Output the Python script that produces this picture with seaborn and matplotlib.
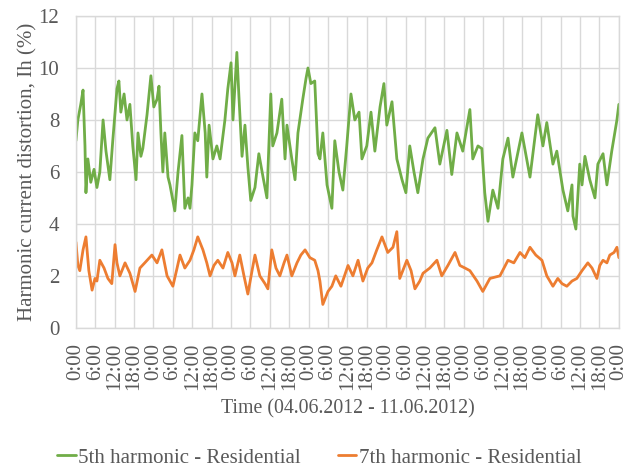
import numpy as np
import pandas as pd
import matplotlib
matplotlib.use("Agg")
import matplotlib.pyplot as plt
import seaborn as sns
from matplotlib.lines import Line2D

# ---- data (hours since 04.06.2012 0:00, value in %) ----
h5_hours = [0, 0.6, 1.5, 2.2, 2.8, 3.1, 3.7, 4.6, 5.6, 6.5, 7.4, 8.4, 9.3, 10.5, 11.4, 12.7, 13.3, 13.9,
            14.9, 15.8, 16.7, 17.6, 18.6, 19.2, 20.1, 20.7, 22.0, 23.2, 24.1, 25.1, 25.7, 26.3, 26.9, 27.5,
            28.5, 29.1, 30.6, 31.6, 32.8, 33.7, 34.7, 35.3, 35.9, 36.8, 37.7, 39.0, 40.0, 40.5, 41.2, 42.4,
            43.6, 44.6, 46.1, 47.0, 48.0, 48.6, 49.8, 50.4, 51.4, 52.3, 53.2, 54.1, 55.4, 56.6, 57.9, 59.1,
            60.3, 60.9, 62.2, 63.7, 64.7, 65.3, 66.8, 67.8, 68.7, 70.2, 71.2, 71.8, 72.7, 73.9, 74.9, 75.5,
            76.4, 77.7, 79.2, 80.1, 81.4, 82.6, 83.8, 85.1, 86.3, 87.6, 88.5, 90.0, 91.3, 92.5, 94.1, 95.3,
            96.2, 97.8, 99.3, 100.9, 102.1, 103.3, 104.6, 105.8, 107.4, 108.9, 111.1, 112.6, 114.8, 116.3,
            117.9, 119.7, 121.9, 122.8, 124.4, 125.6, 126.5, 127.5, 129.0, 130.6, 132.1, 133.7, 135.2, 138.0,
            140.5, 142.9, 144.5, 145.7, 147.6, 148.8, 150.7, 152.2, 153.5, 153.8, 154.7, 155.9, 156.6, 157.5,
            159.0, 160.6, 161.5, 163.1, 164.3, 165.8, 167.4, 168.0]
h5_values = [7.2, 8.0, 8.6, 9.15, 7.0, 5.2, 6.5, 5.6, 6.1, 5.4, 6.0, 8.0, 6.8, 5.7, 7.2, 9.2, 9.5, 8.3,
             9.0, 8.0, 8.6, 7.0, 5.7, 7.5, 6.6, 6.9, 8.2, 9.7, 8.5, 8.8, 9.3, 7.5, 6.0, 7.5,
             5.8, 5.5, 4.5, 6.0, 7.4, 4.6, 5.0, 4.6, 5.5, 7.5, 7.2, 9.0, 7.5, 5.8, 7.8, 6.5,
             7.0, 6.5, 8.0, 9.2, 10.2, 8.0, 10.6, 9.0, 6.6, 7.8, 6.2, 4.9, 5.4, 6.7, 5.8, 5.0,
             9.0, 7.0, 7.5, 8.8, 6.5, 7.8, 6.5, 5.7, 7.5, 8.8, 9.6, 10.0, 9.4, 9.5, 6.7, 6.5,
             7.5, 5.5, 4.6, 7.2, 6.0, 5.3, 7.0, 9.0, 8.0, 8.3, 6.5, 7.0, 8.3, 6.8, 8.5, 9.4,
             7.8, 8.7, 6.5, 5.7, 5.2, 7.0, 6.0, 5.2, 6.5, 7.3, 7.7, 6.3, 7.6, 5.9,
             7.5, 6.8, 8.4, 6.5, 7.0, 6.9, 5.2, 4.1, 5.3, 4.6, 6.5, 7.3, 5.8, 7.5,
             5.8, 8.2, 7.0, 7.9, 6.3, 6.8, 5.3, 4.5, 5.5, 4.3, 3.8, 6.3, 5.5, 6.6,
             5.7, 5.0, 6.3, 6.7, 5.5, 6.8, 8.0, 8.6]

h7_hours = [0, 0.6, 1.2, 2.2, 3.1, 4.0, 5.0, 5.9, 6.5, 7.4, 8.7, 9.9, 11.1, 12.1, 12.7, 13.6, 15.2, 16.7,
            18.3, 19.8, 21.3, 23.5, 25.1, 26.6, 28.2, 30.0, 31.3, 32.2, 33.7, 35.3, 36.5, 37.7, 39.3, 40.5,
            41.5, 42.7, 43.9, 45.5, 47.0, 48.3, 49.2, 50.7, 52.0, 53.2, 54.5, 55.4, 56.9, 58.5, 59.4, 60.6,
            61.9, 63.1, 64.4, 65.3, 66.8, 68.4, 69.6, 70.9, 72.4, 73.9, 74.9, 75.5, 76.4, 78.0, 79.2, 80.4,
            82.0, 84.2, 85.7, 87.3, 88.8, 90.3, 91.6, 93.1, 94.7, 96.5, 98.1, 99.3, 100.2, 102.4, 103.7, 104.9,
            106.4, 107.4, 109.5, 111.7, 113.2, 115.1, 117.3, 118.8, 120.4, 121.9, 124.1, 125.9, 128.1, 131.2,
            133.7, 135.5, 137.4, 138.9, 140.5, 142.3, 144.2, 145.7, 147.6, 149.1, 150.4, 151.9, 153.5, 155.0,
            156.6, 158.4, 159.7, 161.2, 162.1, 163.1, 164.3, 165.2, 166.5, 167.4, 168.0]
h7_values = [3.3, 2.4, 2.2, 3.0, 3.5, 2.2, 1.45, 1.9, 1.8, 2.6, 2.3, 1.9, 1.7, 3.2, 2.5, 2.0, 2.5, 2.1,
             1.4, 2.3, 2.5, 2.8, 2.5, 3.0, 2.0, 1.6, 2.3, 2.8, 2.3, 2.6, 3.0, 3.5, 3.0, 2.5,
             2.0, 2.4, 2.6, 2.3, 2.9, 2.5, 2.0, 2.8, 2.0, 1.3, 2.2, 2.8, 2.0, 1.7, 1.5, 3.0,
             2.3, 2.0, 2.5, 2.8, 2.0, 2.5, 2.8, 3.0, 2.7, 2.6, 2.2, 1.8, 0.9, 1.4, 1.6, 2.0,
             1.6, 2.4, 2.0, 2.6, 1.8, 2.3, 2.5, 3.0, 3.5, 2.9, 3.1, 3.7, 1.9, 2.6, 2.2, 1.5,
             1.8, 2.1, 2.3, 2.6, 2.0, 2.4, 2.9, 2.4, 2.3, 2.2, 1.8, 1.4, 1.9, 2.0,
             2.6, 2.5, 2.9, 2.7, 3.1, 2.8, 2.6, 2.0, 1.6, 1.9, 1.7, 1.6, 1.8, 1.9,
             2.2, 2.5, 2.3, 1.9, 2.4, 2.6, 2.5, 2.8, 2.9, 3.1, 2.7]

series_names = ["5th harmonic - Residential", "7th harmonic - Residential"]
tick_hours = list(range(0, 169, 6))
tick_labels = [f"{h % 24}:00" for h in tick_hours]
y_ticks = [0, 2, 4, 6, 8, 10, 12]

df = pd.concat([
    pd.DataFrame({"hour": h5_hours, "value": h5_values, "series": series_names[0]}),
    pd.DataFrame({"hour": h7_hours, "value": h7_values, "series": series_names[1]}),
])

sns.set_theme(style="white")
plt.rcParams["font.family"] = ["Liberation Serif", "DejaVu Serif"]

fig = plt.figure(figsize=(6.38, 4.71), dpi=100)
ax = fig.add_axes([0.119, 0.304, 0.851, 0.662])

palette = {series_names[0]: "#70AD47", series_names[1]: "#ED7D31"}
sns.lineplot(data=df, x="hour", y="value", hue="series", palette=palette,
             linewidth=2.0, ax=ax, legend=False, sort=False, estimator=None)

ax.set_xlim(0, 168)
ax.set_ylim(0, 12)
ax.set_xticks(tick_hours)
ax.set_xticklabels(tick_labels, rotation=90, fontsize=15, color="#595959")
ax.set_yticks(y_ticks)
ax.set_yticklabels([str(v) for v in y_ticks], fontsize=15, color="#595959")
ax.tick_params(axis="x", length=0, pad=11)
ax.tick_params(axis="y", length=0, pad=12)
ax.grid(True, color="#d9d9d9", linewidth=1.0)
for s in ax.spines.values():
    s.set_color("#d9d9d9")
    s.set_linewidth(1.0)

ax.set_xlabel("Time (04.06.2012 - 11.06.2012)", fontsize=14.3, color="#595959", labelpad=6)
ax.set_ylabel("Harmonic current distortion, Ih (%)", fontsize=15, color="#595959", labelpad=1)

handles = [Line2D([], [], color=palette[n], linewidth=2.0) for n in series_names]
fig.legend(handles, series_names, loc="center", bbox_to_anchor=(0.5, 0.028), ncol=2,
           frameon=False, fontsize=15, handlelength=0.9, handletextpad=0.1,
           columnspacing=1.8, labelcolor="#595959")

fig.savefig("out.png", dpi=100)
